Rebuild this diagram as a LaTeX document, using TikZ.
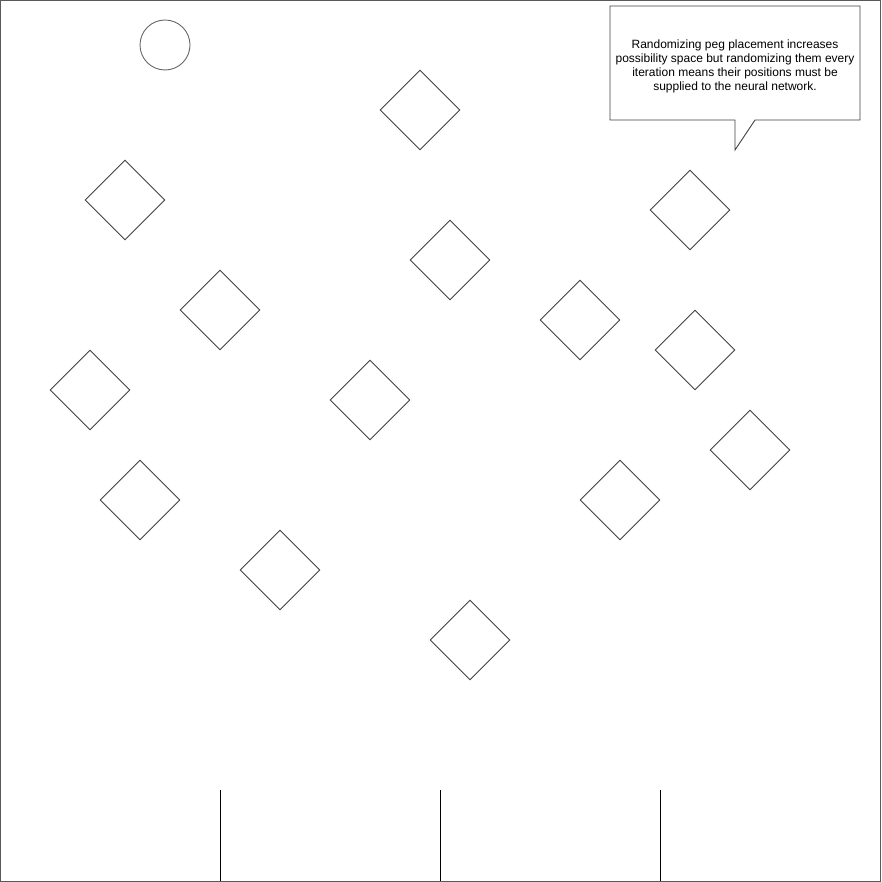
\documentclass[tikz,border=0pt]{standalone}
\usepackage{fontspec}
\setmainfont{Liberation Sans}
\usetikzlibrary{shapes.geometric}
\begin{document}
\begin{tikzpicture}[x=1pt,y=-1pt,
  peg/.style={draw=black!75,line width=0.9pt,shape=diamond,minimum width=80pt,minimum height=80pt,inner sep=0pt,aspect=1},
  ball/.style={draw=black!60,line width=0.9pt,circle,minimum size=50pt,inner sep=0pt},
  divider/.style={draw=black,line width=0.9pt},
  frame/.style={draw=black!65,line width=1pt},
  note/.style={align=center,font=\fontsize{12pt}{13.8pt}\selectfont}]
\useasboundingbox (0,0) rectangle (881,882);
\draw[frame] (0.5,0.5) rectangle (880.5,881);
\node[ball] (ball) at (165,45) {};
\node[peg] (p1) at (420,110) {};
\node[peg] (p2) at (125,200) {};
\node[peg] (p3) at (690,210) {};
\node[peg] (p4) at (450,260) {};
\node[peg] (p5) at (220,310) {};
\node[peg] (p6) at (580,320) {};
\node[peg] (p7) at (695,350) {};
\node[peg] (p8) at (90,390) {};
\node[peg] (p9) at (370,400) {};
\node[peg] (p10) at (750,450) {};
\node[peg] (p11) at (140,500) {};
\node[peg] (p12) at (620,500) {};
\node[peg] (p13) at (280,570) {};
\node[peg] (p14) at (470,640) {};
\foreach \x/\n in {220/a,440/b,660/c}{
  \coordinate (\n top) at (\x,790);
  \coordinate (\n bot) at (\x,881);
  \draw[divider] (\n top) -- (\n bot);
}
\draw[draw=black!75,line width=0.9pt,fill=white]
  (610,6) -- (860,6) -- (860,120) -- (755,120) -- (735,150) -- (735,120) -- (610,120) -- cycle;
\node[note] (text) at (735,66.5) {Randomizing peg placement increases\\possibility space but randomizing them every\\iteration means their positions must be\\supplied to the neural network.};
\end{tikzpicture}
\end{document}
